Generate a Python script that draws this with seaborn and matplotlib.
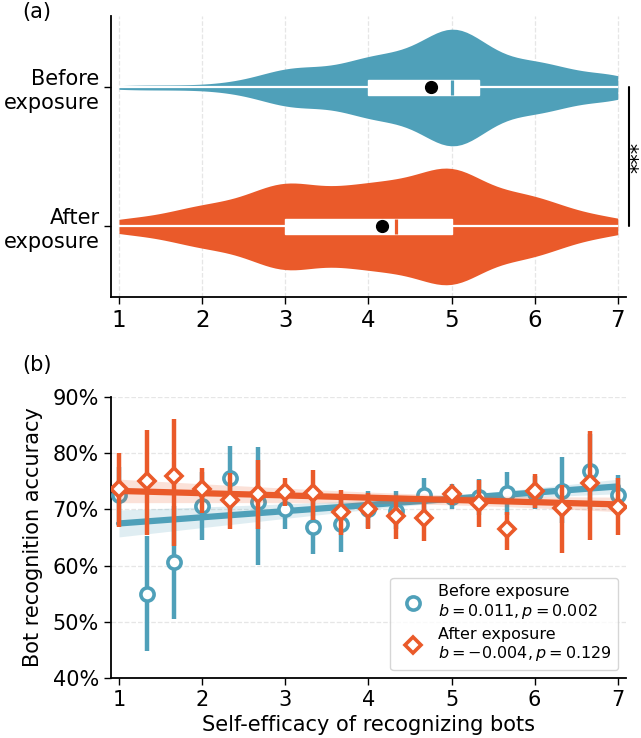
import numpy as np
import pandas as pd
import matplotlib
matplotlib.use("Agg")
import matplotlib.pyplot as plt
from matplotlib.lines import Line2D
from matplotlib.ticker import PercentFormatter
import seaborn as sns

BLUE = "#4fa0b9"
ORANGE = "#ea5a2a"

# self-efficacy levels (mean of three 7-point items)
levels = [1, 4/3, 5/3, 2, 7/3, 8/3, 3, 10/3, 11/3, 4,
          13/3, 14/3, 5, 16/3, 17/3, 6, 19/3, 20/3, 7]

# number of participants at each level
counts_before = [1, 1, 1, 1, 2, 4, 9, 8, 8, 14, 13, 17, 30, 19, 10, 12, 8, 5, 7]
counts_after = [3, 2, 4, 7, 6, 9, 16, 9, 11, 12, 13, 12, 23, 10, 9, 10, 5, 3, 3]

groups = ["Before\nexposure", "After\nexposure"]

# bot recognition accuracy per level: mean and 95% CI
acc_before = [0.726, 0.549, 0.607, 0.706, 0.756, 0.714, 0.700, 0.669, 0.674, 0.700,
              0.698, 0.726, 0.722, 0.722, 0.729, 0.730, 0.733, 0.769, 0.726]
lo_before = [0.680, 0.447, 0.505, 0.646, 0.700, 0.601, 0.666, 0.621, 0.625, 0.667,
             0.665, 0.696, 0.700, 0.690, 0.690, 0.700, 0.675, 0.700, 0.690]
hi_before = [0.775, 0.652, 0.707, 0.766, 0.814, 0.812, 0.735, 0.717, 0.720, 0.732,
             0.733, 0.756, 0.745, 0.755, 0.767, 0.760, 0.794, 0.835, 0.762]

acc_after = [0.736, 0.750, 0.759, 0.736, 0.716, 0.727, 0.731, 0.729, 0.696, 0.700,
             0.688, 0.684, 0.727, 0.712, 0.666, 0.732, 0.702, 0.748, 0.705]
lo_after = [0.669, 0.655, 0.635, 0.693, 0.665, 0.666, 0.706, 0.681, 0.655, 0.666,
            0.648, 0.643, 0.708, 0.669, 0.628, 0.702, 0.622, 0.646, 0.655]
hi_after = [0.800, 0.842, 0.862, 0.773, 0.765, 0.788, 0.756, 0.770, 0.735, 0.730,
            0.723, 0.714, 0.741, 0.753, 0.696, 0.763, 0.744, 0.839, 0.756]

# linear fits: intercept (at x=0), slope, CI half width at x=1 / x=7, centre of x
fit_intercept = [0.664, 0.737]
fit_slope = [0.011, -0.004]
band_end = [(0.024, 0.013), (0.021, 0.013)]
band_xc = [5.0, 5.0]

legend_labels = ["Before exposure\n$b=0.011, p=0.002$",
                 "After exposure\n$b=-0.004, p=0.129$"]

sns.set_style("ticks")
plt.rcParams["font.family"] = ["DejaVu Sans"]
plt.rcParams.update({"text.color": "black", "axes.labelcolor": "black",
                     "xtick.color": "black", "ytick.color": "black",
                     "axes.edgecolor": "black"})

fig = plt.figure(figsize=(6.41, 7.38), dpi=100)
ax1 = fig.add_axes([0.1727, 0.5972, 0.804, 0.3812])
ax2 = fig.add_axes([0.1727, 0.0817, 0.804, 0.380])

# ---------- (a) violins ----------
scores = [np.repeat(levels, counts_before), np.repeat(levels, counts_after)]
df = pd.DataFrame({
    "score": np.concatenate(scores),
    "group": [groups[0]] * len(scores[0]) + [groups[1]] * len(scores[1]),
})
colors = [BLUE, ORANGE]
sns.violinplot(data=df, x="score", y="group", hue="group", palette=colors,
               order=groups, hue_order=groups, orient="h", inner=None, cut=0,
               bw_method=0.24, density_norm="width", width=0.84, linewidth=0,
               saturation=1, legend=False, ax=ax1)

for i, s in enumerate(scores):
    q1, med, q3 = np.percentile(s, [25, 50, 75])
    ax1.hlines(i, s.min(), s.max(), color="white", lw=1.6, zorder=3)
    ax1.barh(i, q3 - q1, left=q1, height=0.11, color="white", zorder=4)
    ax1.vlines(med, i - 0.056, i + 0.056, color=colors[i], lw=2.3, zorder=5)
    ax1.plot(s.mean(), i, "o", color="black", ms=8.5, zorder=6)

ax1.set_xlim(0.9, 7.1)
ax1.set_ylim(1.51, -0.515)
ax1.set_xticks(range(1, 8))
ax1.set_xlabel("")
ax1.set_ylabel("")
ax1.tick_params(axis="x", labelsize=16.5, length=5, width=1)
ax1.tick_params(axis="y", labelsize=15, length=5, width=1, pad=3)
ax1.grid(axis="x", ls="--", color="#e6e6e6", lw=0.9)
ax1.set_axisbelow(True)
sns.despine(ax=ax1)
for sp in ax1.spines.values():
    sp.set_linewidth(1.3)

ax1.plot([7.13, 7.13], [0, 1], color="black", lw=1.5, clip_on=False)
ax1.text(7.138, 0.5, "***", rotation=90, ha="left", va="center",
         fontsize=15, clip_on=False)

# ---------- (b) accuracy vs self-efficacy ----------
acc = [acc_before, acc_after]
lo = [lo_before, lo_after]
hi = [hi_before, hi_after]
markers = ["o", "D"]
msizes = [9.5, 8.5]
xfit = np.linspace(1, 7, 100)
handles = []
for g in range(2):
    yfit = fit_intercept[g] + fit_slope[g] * xfit
    h1, h7 = band_end[g]
    xc = band_xc[g]
    k2 = (h1 ** 2 - h7 ** 2) / ((1 - xc) ** 2 - (7 - xc) ** 2)
    a2 = h7 ** 2 - k2 * (7 - xc) ** 2
    hw = np.sqrt(a2 + k2 * (xfit - xc) ** 2)
    ax2.fill_between(xfit, yfit - hw, yfit + hw, color=colors[g], alpha=0.18,
                     lw=0, zorder=2 + 3 * g)
    sns.lineplot(x=xfit, y=yfit, color=colors[g], lw=4.5, ax=ax2,
                 zorder=3 + 3 * g)
    m = np.array(acc[g])
    yerr = [m - np.array(lo[g]), np.array(hi[g]) - m]
    ax2.errorbar(levels, m, yerr=yerr, fmt=markers[g], color=colors[g],
                 ecolor=colors[g], elinewidth=3.2, capsize=0, ms=msizes[g],
                 mfc="white", mec=colors[g], mew=2.6, zorder=4 + 3 * g)
    handles.append(Line2D([], [], ls="", marker=markers[g], ms=msizes[g],
                          mfc="white", mec=colors[g], mew=2.6))

ax2.set_xlim(0.9, 7.1)
ax2.set_ylim(0.4, 0.9)
ax2.set_xticks(range(1, 8))
ax2.set_yticks(np.arange(0.4, 0.91, 0.1))
ax2.yaxis.set_major_formatter(PercentFormatter(1.0, decimals=0))
ax2.tick_params(labelsize=15, length=5, width=1)
ax2.grid(axis="y", ls="--", color="#e6e6e6", lw=0.9)
ax2.set_axisbelow(True)
ax2.set_xlabel("Self-efficacy of recognizing bots", fontsize=15)
ax2.set_ylabel("Bot recognition accuracy", fontsize=15, labelpad=7)
sns.despine(ax=ax2)
for sp in ax2.spines.values():
    sp.set_linewidth(1.3)

ax2.legend(handles, legend_labels, loc="lower right", fontsize=11.5,
           frameon=True, handletextpad=0.6, labelspacing=0.35)

fig.text(0.035, 0.997, "(a)", fontsize=15, va="top", ha="left")
fig.text(0.035, 0.519, "(b)", fontsize=15, va="top", ha="left")

fig.savefig("out.png", dpi=100)
